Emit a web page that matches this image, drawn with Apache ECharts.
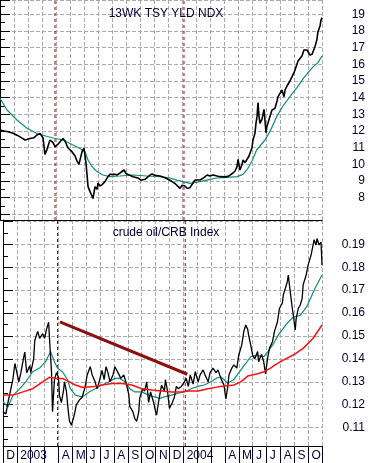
<!DOCTYPE html>
<html><head><meta charset="utf-8">
<script src="https://cdn.jsdelivr.net/npm/echarts@6/dist/echarts.min.js"></script>
<style>html,body{margin:0;padding:0;background:#fff}#c{width:371px;height:463px}</style>
</head><body><div id="c"></div>
<script>
// Time unit: months since 2002-12-01 (0 = Dec 1 2002, 23 = Nov 1 2004)
const monthLabels = ['D','2003','','','A','M','J','J','A','S','O','N','D','2004','','','A','M','J','J','A','S','O',''];
const eventMonths = [3.93, 13.14];
const tsyRange = [6.66, 19.86];
const ratioRange = [0.102, 0.2006];

// 13WK TSY YLD NDX (price)
const tsyPrice = [[0,12.06],[0.29,12.0],[0.57,11.95],[0.93,11.87],[1.21,11.75],[1.43,11.65],[1.79,11.46],[2.14,11.55],[2.43,11.6],[2.64,11.76],[2.86,11.85],[3.07,11.6],[3.21,10.6],[3.36,10.9],[3.57,11.46],[3.79,11.3],[3.93,11.06],[4.14,11.2],[4.29,11.35],[4.5,11.55],[4.64,11.4],[4.86,10.98],[5.14,10.76],[5.36,10.5],[5.5,10.2],[5.64,10.0],[5.86,10.76],[6.0,10.98],[6.14,10.1],[6.29,8.66],[6.43,8.36],[6.57,8.1],[6.64,7.95],[6.79,8.66],[6.93,8.5],[7.0,8.88],[7.14,8.7],[7.29,8.78],[7.5,8.96],[7.71,9.26],[7.86,9.4],[8.0,9.36],[8.21,9.4],[8.36,9.36],[8.57,9.48],[8.71,9.55],[8.86,9.66],[9.0,9.45],[9.14,9.36],[9.5,9.26],[9.86,9.18],[10.07,9.05],[10.21,8.96],[10.36,9.1],[10.5,9.18],[10.71,9.35],[10.86,9.42],[11.07,9.35],[11.21,9.32],[11.43,9.3],[11.57,9.26],[11.79,9.2],[11.93,9.18],[12.14,9.05],[12.29,8.96],[12.5,8.85],[12.64,8.76],[12.86,8.56],[13.0,8.75],[13.07,8.86],[13.21,8.7],[13.36,8.56],[13.57,8.6],[13.71,8.66],[13.93,9.06],[14.07,9.0],[14.29,9.06],[14.57,9.2],[14.79,9.36],[15.0,9.3],[15.21,9.36],[15.5,9.3],[15.71,9.26],[16.0,9.25],[16.21,9.26],[16.43,9.35],[16.64,9.48],[16.79,9.6],[16.93,9.86],[17.0,10.3],[17.14,9.66],[17.29,10.0],[17.36,10.26],[17.5,10.1],[17.64,10.06],[17.79,10.5],[17.86,10.68],[18.0,11.0],[18.07,11.46],[18.21,11.85],[18.29,12.5],[18.36,12.86],[18.43,13.7],[18.5,12.9],[18.57,12.46],[18.71,12.7],[18.86,13.3],[18.93,12.6],[19.0,11.9],[19.07,12.3],[19.14,12.46],[19.29,12.9],[19.43,13.26],[19.64,13.36],[19.79,13.8],[19.86,14.06],[20.0,14.26],[20.14,14.46],[20.29,14.06],[20.36,14.46],[20.5,14.7],[20.57,14.66],[20.71,15.0],[20.86,15.26],[21.0,15.5],[21.07,15.66],[21.21,16.0],[21.29,16.2],[21.43,16.3],[21.57,16.5],[21.71,16.86],[21.79,16.96],[21.93,16.86],[22.0,16.76],[22.14,16.56],[22.29,16.6],[22.36,16.7],[22.5,17.06],[22.64,17.5],[22.71,17.96],[22.86,18.3],[22.93,18.66],[23.0,18.8]];
const tsyMA = [[0,13.96],[0.5,13.26],[1.21,12.66],[1.93,12.16],[2.64,11.85],[3.0,11.76],[3.79,11.58],[4.5,11.46],[5.21,11.16],[5.71,10.95],[6.07,10.76],[6.29,10.26],[6.5,9.95],[6.79,9.66],[7.07,9.5],[7.36,9.36],[7.86,9.26],[8.57,9.3],[9.5,9.36],[10.5,9.3],[11.43,9.26],[12.14,9.18],[12.64,9.05],[13.07,8.96],[13.57,8.86],[14.29,8.96],[15.0,9.1],[15.5,9.18],[16.21,9.22],[16.93,9.26],[17.36,9.4],[17.71,9.76],[18.0,10.2],[18.33,10.86],[18.57,11.1],[18.93,11.46],[19.36,12.1],[19.76,12.86],[20.21,13.5],[20.71,14.06],[21.21,14.6],[21.67,15.16],[22.0,15.5],[22.38,15.86],[22.71,16.1],[23.0,16.5]];

// crude oil / CRB Index
const ratio = [[0,0.117],[0.21,0.116],[0.36,0.121],[0.57,0.127],[0.71,0.131],[0.86,0.138],[1.0,0.134],[1.14,0.130],[1.29,0.134],[1.5,0.141],[1.57,0.143],[1.71,0.134],[1.93,0.137],[2.0,0.134],[2.21,0.140],[2.29,0.148],[2.5,0.152],[2.64,0.149],[2.86,0.151],[3.0,0.149],[3.14,0.153],[3.29,0.156],[3.36,0.148],[3.5,0.134],[3.57,0.117],[3.71,0.131],[3.86,0.134],[4.0,0.132],[4.07,0.124],[4.21,0.121],[4.36,0.126],[4.43,0.130],[4.57,0.126],[4.71,0.117],[4.79,0.113],[4.93,0.111],[5.07,0.114],[5.14,0.1156],[5.29,0.120],[5.5,0.122],[5.71,0.1234],[5.93,0.128],[6.07,0.133],[6.29,0.1366],[6.43,0.133],[6.64,0.130],[6.79,0.127],[6.93,0.130],[7.14,0.135],[7.29,0.131],[7.43,0.1366],[7.57,0.134],[7.71,0.130],[7.93,0.133],[8.07,0.1366],[8.29,0.134],[8.5,0.1315],[8.71,0.133],[8.86,0.130],[9.07,0.1244],[9.14,0.1193],[9.36,0.117],[9.5,0.114],[9.64,0.1127],[9.79,0.117],[9.86,0.123],[10.07,0.127],[10.21,0.126],[10.36,0.130],[10.5,0.121],[10.64,0.1256],[10.86,0.121],[11.0,0.117],[11.07,0.1155],[11.21,0.121],[11.43,0.1286],[11.64,0.126],[11.71,0.131],[11.86,0.126],[12.0,0.1184],[12.21,0.121],[12.36,0.1234],[12.5,0.128],[12.64,0.127],[12.86,0.128],[13.07,0.130],[13.21,0.1315],[13.36,0.128],[13.5,0.133],[13.71,0.129],[13.86,0.1345],[14.07,0.130],[14.21,0.133],[14.43,0.1352],[14.57,0.133],[14.79,0.130],[14.93,0.134],[15.14,0.136],[15.36,0.134],[15.5,0.1352],[15.71,0.1315],[15.93,0.1286],[16.07,0.1225],[16.21,0.128],[16.29,0.133],[16.5,0.136],[16.64,0.1374],[16.86,0.136],[17.0,0.1417],[17.21,0.146],[17.36,0.1519],[17.5,0.1548],[17.64,0.153],[17.71,0.1504],[17.86,0.146],[18.0,0.1417],[18.14,0.140],[18.36,0.1432],[18.43,0.1388],[18.64,0.142],[18.79,0.139],[18.93,0.1335],[19.07,0.140],[19.21,0.1446],[19.43,0.1475],[19.57,0.1519],[19.79,0.1562],[19.93,0.162],[20.14,0.1643],[20.21,0.1679],[20.36,0.1708],[20.5,0.1737],[20.57,0.1766],[20.71,0.1693],[20.86,0.162],[20.93,0.1592],[21.07,0.1526],[21.14,0.1577],[21.29,0.162],[21.43,0.1635],[21.57,0.1664],[21.64,0.1723],[21.86,0.1766],[22.0,0.181],[22.21,0.1853],[22.36,0.1897],[22.43,0.192],[22.57,0.1897],[22.64,0.1925],[22.79,0.1897],[22.93,0.191],[23.0,0.181]];
const ratioMAfast = [[0,0.1213],[0.36,0.119],[0.71,0.124],[1.21,0.127],[1.64,0.130],[2.14,0.1344],[2.64,0.136],[3.07,0.1388],[3.43,0.1432],[3.71,0.1388],[3.93,0.136],[4.29,0.1344],[4.64,0.131],[4.86,0.127],[5.21,0.1242],[5.71,0.1234],[6.21,0.1256],[6.64,0.127],[7.14,0.1286],[7.64,0.130],[8.07,0.1315],[8.43,0.1315],[8.79,0.130],[9.14,0.127],[9.5,0.1256],[10.0,0.1256],[10.5,0.1242],[10.93,0.1234],[11.29,0.1228],[11.64,0.1234],[12.14,0.1242],[12.64,0.125],[13.07,0.1256],[13.57,0.127],[14.07,0.128],[14.5,0.1286],[15.0,0.130],[15.36,0.1315],[15.71,0.1322],[16.21,0.1294],[16.64,0.131],[17.14,0.1351],[17.5,0.138],[17.86,0.141],[18.21,0.1415],[18.57,0.1412],[18.81,0.141],[19.14,0.1435],[19.52,0.1468],[19.86,0.1505],[20.48,0.1555],[20.95,0.1584],[21.43,0.159],[21.9,0.1628],[22.5,0.1708],[23.0,0.1766]];
const ratioMAslow = [[0,0.1242],[0.71,0.1242],[1.43,0.1256],[2.14,0.127],[2.86,0.130],[3.36,0.132],[3.79,0.1315],[4.29,0.1315],[4.79,0.130],[5.21,0.1286],[5.71,0.1276],[6.43,0.1278],[7.14,0.1286],[7.86,0.1293],[8.57,0.1293],[9.29,0.1286],[10.0,0.127],[10.71,0.1264],[11.43,0.126],[12.14,0.1256],[12.86,0.1256],[13.36,0.126],[14.07,0.126],[14.79,0.127],[15.5,0.1278],[16.21,0.1283],[16.64,0.1286],[17.14,0.130],[17.64,0.1325],[18.36,0.1335],[18.81,0.1344],[19.29,0.136],[19.64,0.1375],[20.21,0.1395],[20.93,0.1417],[21.64,0.1446],[22.36,0.149],[23.0,0.1548]];
const trendLine = [[4.1,0.1562],[13.29,0.1333]];

const TXT = '#000033';
const FONT = 'Liberation Sans';
const GRID_COLOR = '#aaaaaa';

function xAx(gi, withLabels){
  return {
    type:'value', gridIndex:gi, min:0, max:23, interval:1,
    axisLine:{show:true, lineStyle:{color:'#000', width:1}},
    axisTick:{show:withLabels, length:20, lineStyle:{color:'#000033', width:1}},
    axisLabel:{show:withLabels, align:'left', margin:4,
      color:TXT, fontSize:12, fontFamily:FONT,
      formatter:(v)=> { const s = monthLabels[Math.round(v)]; return s ? ' ' + s : ''; }},
    splitLine:{show:true, lineStyle:{color:GRID_COLOR, type:'dashed', width:1}}
  };
}
function yAx(gi, range, step, fmt){
  return {
    type:'value', gridIndex:gi, position:'right', min:range[0], max:range[1],
    minInterval:step, maxInterval:step,
    axisLine:{show:true, lineStyle:{color:'#000'}},
    axisTick:{show:true, length:10, lineStyle:{color:'#000'}},
    minorTick:{show:true, splitNumber:2, length:5, lineStyle:{color:'#000'}},
    axisLabel:{show:true, showMinLabel:false, showMaxLabel:false, align:'right', margin:43,
      color:TXT, fontSize:12, fontFamily:FONT, formatter:fmt},
    splitLine:{show:true, lineStyle:{color:GRID_COLOR, type:'dashed', width:1}}
  };
}
// event (vertical dashed) lines as two-point line series spanning each panel's value range
function eventSeries(xi, yi, range){
  return eventMonths.map(t => ({
    type:'line', xAxisIndex:xi, yAxisIndex:yi, data:[[t, range[0]], [t, range[1]]],
    showSymbol:false, silent:true,
    lineStyle:{color:'#a00000', type:[3,3], width:1}
  }));
}

const option = {
  animation:false,
  title:[
    {text:'13WK TSY YLD NDX', left:161, top:3, textAlign:'center',
     textStyle:{fontSize:12, fontWeight:'normal', color:TXT, fontFamily:FONT}},
    {text:'crude oil/CRB Index', left:161, top:222, textAlign:'center',
     textStyle:{fontSize:12, fontWeight:'normal', color:TXT, fontFamily:FONT}}
  ],
  grid:[
    {left:0, right:49, top:0, height:220},
    {left:0, right:49, top:220, height:226}
  ],
  xAxis:[xAx(0,false), xAx(1,true)],
  yAxis:[
    yAx(0, tsyRange, 1, (v)=> (Math.abs(v - Math.round(v)) < 1e-6 && v >= 7.5 && v <= 19.5) ? String(Math.round(v)) : ''),
    yAx(1, ratioRange, 0.01, (v)=> (v >= 0.105 && v <= 0.195) ? v.toFixed(2) : '')
  ],
  series:[
    ...eventSeries(0, 0, tsyRange),
    ...eventSeries(1, 1, ratioRange),
    {type:'line', name:'tsyMA', xAxisIndex:0, yAxisIndex:0, data:tsyMA, showSymbol:false,
     lineStyle:{color:'#138a7e', width:1.2}},
    {type:'line', name:'tsy', xAxisIndex:0, yAxisIndex:0, data:tsyPrice, showSymbol:false,
     lineStyle:{color:'#000', width:1.6}},
    {type:'line', name:'fast', xAxisIndex:1, yAxisIndex:1, data:ratioMAfast, showSymbol:false,
     lineStyle:{color:'#138a7e', width:1.2}},
    {type:'line', name:'ratio', xAxisIndex:1, yAxisIndex:1, data:ratio, showSymbol:false,
     lineStyle:{color:'#000', width:1.3}},
    {type:'line', name:'slow', xAxisIndex:1, yAxisIndex:1, data:ratioMAslow, showSymbol:false,
     lineStyle:{color:'#ff1010', width:1.5}},
    {type:'line', name:'trend', xAxisIndex:1, yAxisIndex:1, data:trendLine, showSymbol:false,
     lineStyle:{color:'#8b1010', width:3}}
  ]
};
const chart = echarts.init(document.getElementById('c'));
chart.setOption(option);
</script></body></html>
